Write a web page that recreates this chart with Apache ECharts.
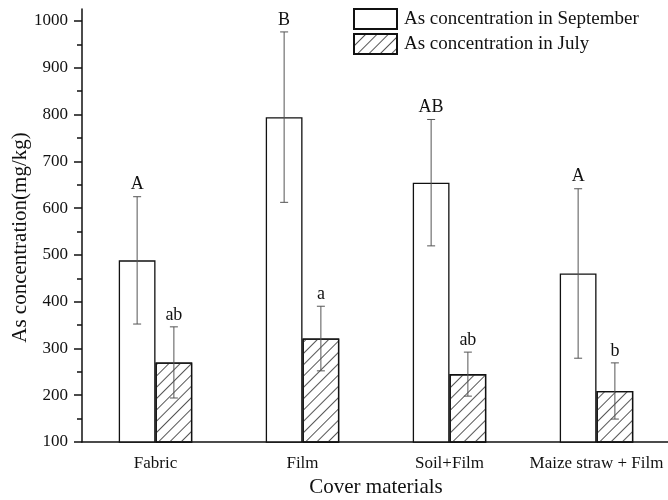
<!DOCTYPE html>
<html>
<head>
<meta charset="utf-8">
<title>As concentration</title>
<script src="https://cdn.jsdelivr.net/npm/echarts@6/dist/echarts.min.js"></script>
<style>
  html, body { margin: 0; padding: 0; background: #fff; }
  #main { width: 668px; height: 500px; }
</style>
</head>
<body>
<div id="main"></div>
<script type="text/javascript">
// data
var categories = ['Fabric', 'Film', 'Soil+Film', 'Maize straw + Film'];
var septMean = [488, 794, 654, 460];
var septErr = [136, 182, 135, 181];
var julyMean = [270, 321, 245, 209];
var julyErr = [76, 69, 47, 60];
var septLetters = ['A', 'B', 'AB', 'A'];
var julyLetters = ['ab', 'a', 'ab', 'b'];

var serif = '"Liberation Serif", "DejaVu Serif", serif';

function errData(mean, err) {
    return mean.map(function (m, i) { return [i, m - err[i], m + err[i]]; });
}

// error bar + letter, shifted to the left/right bar of the pair
function errRenderer(shift, letters) {
    return function (params, api) {
        var i = api.value(0);
        var band = api.size([1, 0])[0];
        var lo = api.coord([i, api.value(1)]);
        var hi = api.coord([i, api.value(2)]);
        var x = lo[0] + shift * band;
        var cap = 4;
        var ls = { stroke: '#555', lineWidth: 1 };
        return {
            type: 'group',
            children: [
                { type: 'line', shape: { x1: x, y1: lo[1], x2: x, y2: hi[1] }, style: ls },
                { type: 'line', shape: { x1: x - cap, y1: hi[1], x2: x + cap, y2: hi[1] }, style: ls },
                { type: 'line', shape: { x1: x - cap, y1: lo[1], x2: x + cap, y2: lo[1] }, style: ls },
                {
                    type: 'text',
                    style: {
                        text: letters[i], x: x, y: hi[1] - 3,
                        align: 'center', verticalAlign: 'bottom',
                        font: '18px ' + serif, fill: '#111'
                    }
                }
            ]
        };
    };
}

var myChart = echarts.init(document.getElementById('main'));

var option = {
    animation: false,
    backgroundColor: '#fff',
    legend: {
        orient: 'vertical',
        left: 353,
        top: 8,
        padding: 0,
        itemWidth: 43,
        itemHeight: 20,
        itemGap: 3,
        icon: 'rect',
        textStyle: { fontFamily: serif, fontSize: 19, color: '#111', padding: [0, 0, 0, 2] },
        data: ['As concentration in September', 'As concentration in July']
    },
    grid: [
        // full axis line
        { left: 82, width: 588, top: 9, height: 433, outerBoundsMode: 'none', containLabel: false },
        // 100..1000 ticks
        { left: 82, width: 588, top: 21, height: 421, outerBoundsMode: 'none', containLabel: false }
    ],
    xAxis: [
        {
            type: 'category',
            gridIndex: 0,
            data: categories,
            name: 'Cover materials',
            nameLocation: 'middle',
            nameGap: 35,
            nameMoveOverlap: false,
            nameTextStyle: { fontFamily: serif, fontSize: 21, color: '#111' },
            axisLine: { lineStyle: { color: '#111', width: 1.5 } },
            axisTick: { alignWithLabel: true, length: 7, lineStyle: { color: '#111', width: 1.5 } },
            axisLabel: { interval: 0, fontFamily: serif, fontSize: 17, color: '#111', margin: 13 }
        },
        {
            type: 'category',
            gridIndex: 1,
            data: categories,
            axisLine: { show: false },
            axisTick: { length: 4, lineStyle: { color: '#111', width: 1.5 } },
            axisLabel: { show: false }
        }
    ],
    yAxis: [
        {
            type: 'value',
            gridIndex: 0,
            min: 100,
            max: 1025,
            axisLine: { show: true, lineStyle: { color: '#111', width: 1.5 } },
            axisTick: { show: false },
            axisLabel: { show: false },
            splitLine: { show: false }
        },
        {
            type: 'value',
            gridIndex: 1,
            min: 100,
            max: 1000,
            interval: 100,
            name: 'As concentration(mg/kg)',
            nameLocation: 'middle',
            nameGap: 51,
            nameMoveOverlap: false,
            nameTextStyle: { fontFamily: serif, fontSize: 21, color: '#111', padding: [0, 12, 0, 0] },
            axisLine: { show: false },
            axisTick: { show: true, length: 8, lineStyle: { color: '#111', width: 1.5 } },
            minorTick: { show: true, splitNumber: 2, length: 5, lineStyle: { color: '#111', width: 1.5 } },
            axisLabel: {
                fontFamily: serif, fontSize: 17, color: '#111', margin: 14,
                formatter: function (v) { return String(v); }
            },
            splitLine: { show: false }
        }
    ],
    series: [
        {
            name: 'As concentration in September',
            type: 'bar',
            xAxisIndex: 0,
            yAxisIndex: 0,
            barWidth: '25%',
            barGap: 0,
            data: septMean,
            itemStyle: { color: '#fff', borderColor: '#111', borderWidth: 1.3 }
        },
        {
            name: 'As concentration in July',
            type: 'bar',
            xAxisIndex: 0,
            yAxisIndex: 0,
            barWidth: '25%',
            barGap: 0,
            data: julyMean,
            itemStyle: {
                color: '#fff',
                borderColor: '#111',
                borderWidth: 1.3,
                decal: {
                    symbol: 'rect',
                    symbolSize: 1,
                    color: '#555',
                    dashArrayX: [1, 0],
                    dashArrayY: [1, 7],
                    rotation: -Math.PI / 4
                }
            }
        },
        {
            type: 'custom',
            xAxisIndex: 0,
            yAxisIndex: 0,
            z: 5,
            renderItem: errRenderer(-0.125, septLetters),
            data: errData(septMean, septErr)
        },
        {
            type: 'custom',
            xAxisIndex: 0,
            yAxisIndex: 0,
            z: 5,
            renderItem: errRenderer(0.125, julyLetters),
            data: errData(julyMean, julyErr)
        }
    ]
};

myChart.setOption(option);
</script>
</body>
</html>
